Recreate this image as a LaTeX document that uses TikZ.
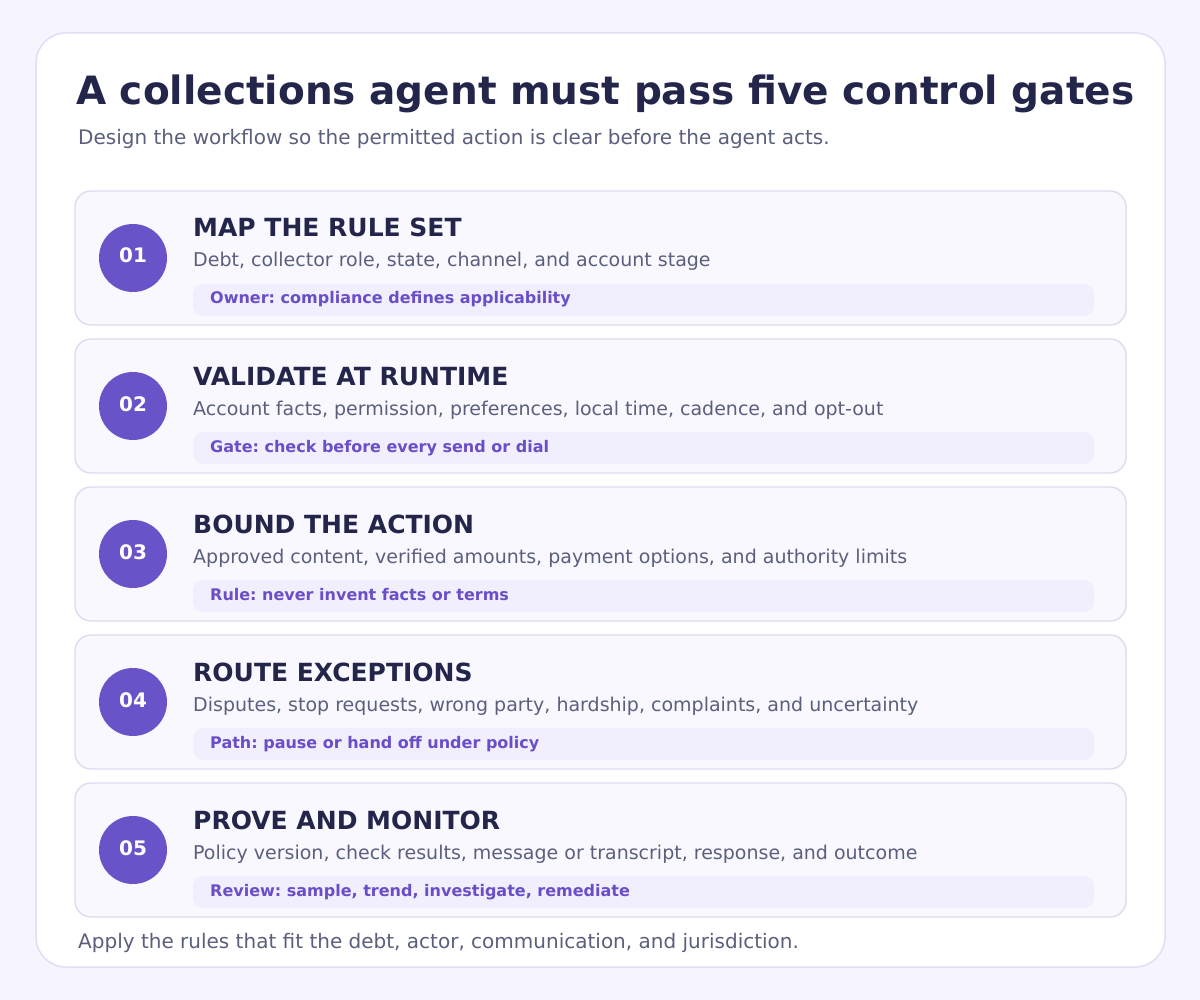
\documentclass[tikz,border=0pt]{standalone}
\usepackage{fontspec}
\setmainfont{DejaVu Sans}
\frenchspacing
\definecolor{pagebg}{HTML}{F6F4FE}
\definecolor{cardline}{HTML}{E1DDF5}
\definecolor{stepfill}{HTML}{F9F8FF}
\definecolor{stepline}{HTML}{DEDAF2}
\definecolor{pillfill}{HTML}{F1EEFD}
\definecolor{purp}{HTML}{6A52C8}
\definecolor{pilltext}{HTML}{6A4EC8}
\definecolor{ink}{HTML}{23264A}
\definecolor{muted}{HTML}{5B5F7E}
\tikzset{
  stepcard/.style={draw=stepline, line width=1.4pt, fill=stepfill, rounded corners=16pt},
  pillbox/.style={fill=pillfill, rounded corners=10pt},
  numdisc/.style={circle, fill=purp, minimum size=68pt, inner sep=0pt},
  numlabel/.style={anchor=base, inner sep=0pt, text=white, font=\fontsize{20}{24}\selectfont\bfseries},
  steptitle/.style={anchor=base west, inner sep=0pt, text=ink, font=\fontsize{25}{30}\selectfont\bfseries},
  stepdesc/.style={anchor=base west, inner sep=0pt, text=muted, font=\fontsize{19}{23}\selectfont},
  pilllabel/.style={anchor=base west, inner sep=0pt, text=pilltext, font=\fontsize{16}{19}\selectfont\bfseries},
  lead/.style={anchor=base west, inner sep=0pt, text=muted, font=\fontsize{20}{24}\selectfont},
}
\begin{document}
\begin{tikzpicture}[x=1pt,y=-1pt]
\fill[pagebg] (0,0) rectangle (1200,1000);
\useasboundingbox (0,0) rectangle (1200,1000);
\draw[draw=cardline, line width=1.5pt, fill=white, rounded corners=30pt] (36,33) rectangle (1165,967);
\node[anchor=base west, inner sep=0pt, text=ink, font=\fontsize{39}{46}\selectfont\bfseries] (title) at (76,105) {A collections agent must pass five control gates};
\node[lead] (subtitle) at (78,145) {Design the workflow so the permitted action is clear before the agent acts.};
\foreach \i/\num/\ttl/\desc/\pill in {
  0/01/MAP THE RULE SET/{Debt, collector role, state, channel, and account stage}/{Owner: compliance defines applicability},
  1/02/VALIDATE AT RUNTIME/{Account facts, permission, preferences, local time, cadence, and opt-out}/{Gate: check before every send or dial},
  2/03/BOUND THE ACTION/{Approved content, verified amounts, payment options, and authority limits}/{Rule: never invent facts or terms},
  3/04/ROUTE EXCEPTIONS/{Disputes, stop requests, wrong party, hardship, complaints, and uncertainty}/{Path: pause or hand off under policy},
  4/05/PROVE AND MONITOR/{Policy version, check results, message or transcript, response, and outcome}/{Review: sample, trend, investigate, remediate}}
{
  \pgfmathsetmacro{\dy}{148*\i}
  \begin{scope}[yshift=-\dy pt]
    \draw[stepcard] (75,191) rectangle (1126,325);
    \fill[pillbox] (193,284) rectangle (1094,316);
    \node[numdisc] (c\num) at (133,258) {};
    \node[numlabel] (n\num) at (133,263) {\num};
    \node[steptitle] (t\num) at (193,237) {\ttl};
    \node[stepdesc] (d\num) at (193,267) {\desc};
    \node[pilllabel] (p\num) at (210,304) {\pill};
  \end{scope}
}
\node[lead] (footer) at (78,948) {Apply the rules that fit the debt, actor, communication, and jurisdiction.};
\end{tikzpicture}
\end{document}
